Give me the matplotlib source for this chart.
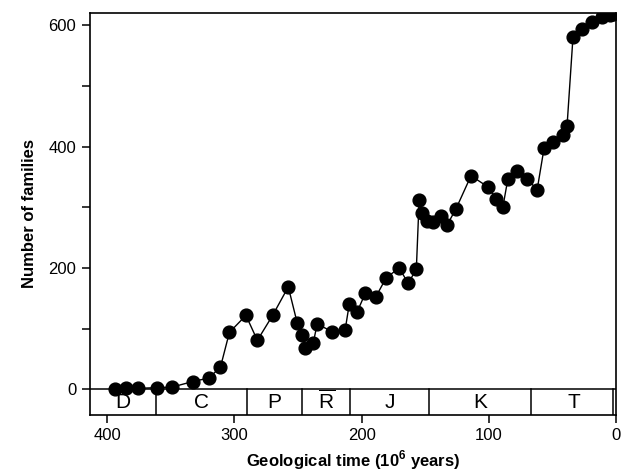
import matplotlib
matplotlib.use('Agg')
import matplotlib.pyplot as plt

plt.rcParams['font.family'] = ['Liberation Sans', 'DejaVu Sans']
plt.rcParams['mathtext.fontset'] = 'custom'
plt.rcParams['mathtext.rm'] = 'Liberation Sans'
plt.rcParams['mathtext.bf'] = 'Liberation Sans:bold'

# ages (Ma) and number of families
age = [394, 385, 375.5, 361, 349, 333, 320, 311, 304, 291, 282, 270, 257.7,
       250.6, 246.7, 244.3, 238, 235, 223, 213, 209.7, 203.5, 197, 189, 180.7,
       170.5, 163.4, 157, 154.8, 152.4, 148.5, 143.8, 138, 132.8, 125.7, 114,
       101, 94, 89, 85, 78, 70, 62, 56.6, 49.5, 41.6, 38.5, 33.8, 26.7, 18.9,
       11, 4.7, 2]
families = [1, 2, 2, 3, 4, 13, 19, 37, 94, 122, 81, 122, 169,
            109, 90, 68, 77, 108, 95, 98, 141, 128, 159, 152, 184,
            200, 175, 198, 312, 291, 278, 276, 286, 271, 298, 352,
            334, 314, 300, 347, 360, 347, 329, 397, 407, 419, 434, 581, 594, 606,
            613, 616, 618]

# geological periods (Triassic written as R with a bar)
period_names = ['D', 'C', 'P', r'$\overline{\mathrm{R}}$', 'J', 'K', 'T']
period_bounds = [414, 362, 290, 247, 209, 147, 67, 0]

fig = plt.figure(figsize=(6.32, 4.76), dpi=100)
ax = fig.add_axes([89.5 / 632, 1 - 415 / 476, (616 - 89.5) / 632, (415 - 13) / 476])

ax.plot(age, families, color='black', lw=1.0, marker='o', markersize=9.2,
        markerfacecolor='black', markeredgecolor='black', zorder=3)

ax.set_xlim(414, 0)
ax.set_ylim(-42, 620)

# period band under the zero line
ax.axhline(0, color='black', lw=1.1)
for b in period_bounds[1:-1]:
    ax.plot([b, b], [-42, 0], color='black', lw=1.1)
ax.plot([2.5, 2.5], [-42, 0], color='black', lw=1.1)

for name, start, end in zip(period_names, period_bounds[:-1], period_bounds[1:]):
    mid = (start + end) / 2
    y = -19 if name.startswith('$') else -22
    ax.text(mid, y, name, ha='center', va='center', fontsize=15)

ax.set_yticks([0, 100, 200, 300, 400, 500, 600])
ax.set_yticklabels(['0', '', '200', '', '400', '', '600'])
ax.set_xticks([400, 300, 200, 100, 0])
ax.set_xticklabels(['400', '300', '200', '100', '0'])
ax.tick_params(direction='out', length=6, width=1.1, labelsize=12)

for s in ax.spines.values():
    s.set_linewidth(1.2)

ax.set_xlabel(r'Geological time (10$^{\mathbf{6}}$ years)', fontsize=12,
              fontweight='bold', labelpad=4)
ax.set_ylabel('Number of families', fontsize=12, fontweight='bold', labelpad=8)

fig.savefig('out.png', dpi=100, facecolor='white')
